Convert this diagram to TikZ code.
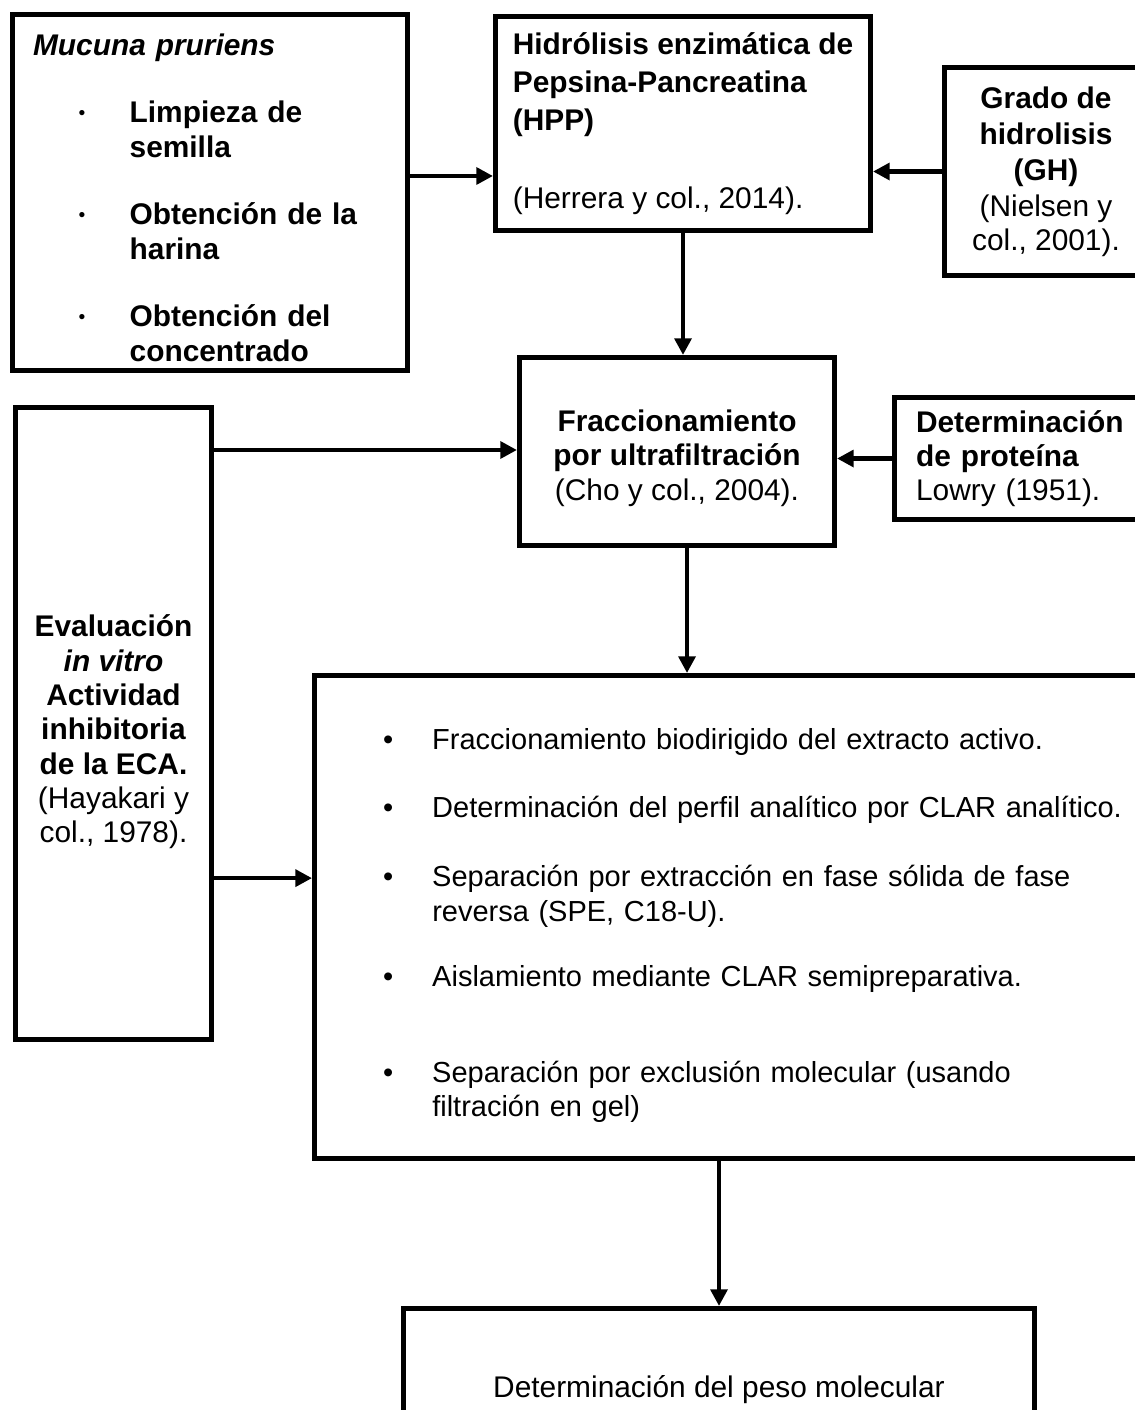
\documentclass[tikz,border=0pt]{standalone}
\usepackage{fontspec}
\setmainfont{Liberation Sans}
\usetikzlibrary{arrows.meta}

\begin{document}
\begin{tikzpicture}[x=0.02cm,y=-0.02cm,
  blk/.style={draw,line width=2.9pt,inner sep=0pt,font=\fontsize{17}{19.5}\selectfont},
  arr/.style={line width=2.6pt,-{Triangle[length=9.5pt,width=9.5pt]}}]
\useasboundingbox (0,0) rectangle (1135,1410);
\clip (0,0) rectangle (1135,1410);

\node[blk,minimum width=7.9cm,minimum height=7.12cm,text width=7.08cm,align=left] (MUC) at (210,192.5) {\rule{0pt}{18pt}\textbf{\textit{Mucuna pruriens}}\\[19pt]
\hspace*{26pt}\makebox[29pt][l]{\raisebox{2pt}{\fontsize{11}{11}\selectfont •}}\textbf{Limpieza de}\\
\hspace*{55pt}\textbf{semilla}\\[19pt]
\hspace*{26pt}\makebox[29pt][l]{\raisebox{2pt}{\fontsize{11}{11}\selectfont •}}\textbf{Obtención de la}\\
\hspace*{55pt}\textbf{harina}\\[19pt]
\hspace*{26pt}\makebox[29pt][l]{\raisebox{2pt}{\fontsize{11}{11}\selectfont •}}\textbf{Obtención del}\\
\hspace*{55pt}\textbf{concentrado}};
\node[blk,minimum width=7.5cm,minimum height=4.28cm,align=left] (HPP) at (683,123.5) {\textbf{Hidrólisis enzimática de}\\[2pt]\textbf{Pepsina-Pancreatina}\\[2pt]\textbf{(HPP)}\\[25pt](Herrera y col., 2014).};
\node[blk,minimum width=4.05cm,minimum height=4.16cm,align=center] (GH) at (1046,171.5) {\textbf{Grado de}\\[1pt]\textbf{hidrolisis}\\[1pt]\textbf{(GH)}\\[1pt](Nielsen y\\col., 2001).};
\node[blk,minimum width=6.3cm,minimum height=3.76cm,align=center] (UF) at (677,451.5) {\rule{0pt}{20pt}\textbf{Fraccionamiento}\\\textbf{por ultrafiltración}\\(Cho y col., 2004).};
\node[blk,minimum width=6.71cm,minimum height=2.44cm,text width=5.85cm,align=left] (PROT) at (1062.25,458.5) {\textbf{Determinación}\\\textbf{de proteína}\\Lowry (1951).};
\node[blk,minimum width=3.92cm,minimum height=12.64cm,align=center] (ECA) at (113.5,723.5) {\rule{0pt}{22pt}\textbf{Evaluación}\\\textbf{\textit{in vitro}}\\\textbf{Actividad}\\\textbf{inhibitoria}\\\textbf{de la ECA.}\\(Hayakari y\\col., 1978).};
\node[blk,font=\fontsize{16.5}{19.5}\selectfont,minimum width=18.31cm,minimum height=9.66cm,text width=15.57cm,align=left] (FRAC) at (772.25,917) {\rule{0pt}{22pt}\makebox[28pt][l]{•}Fraccionamiento biodirigido del extracto activo.\\[19pt]
\makebox[28pt][l]{•}Determinación del perfil analítico por CLAR analítico.\\[20pt]
\makebox[28pt][l]{•}Separación por extracción en fase sólida de fase\\
\hspace*{28pt}reversa (SPE, C18-U).\\[18pt]
\makebox[28pt][l]{•}Aislamiento mediante CLAR semipreparativa.\\[35pt]
\makebox[28pt][l]{•}Separación por exclusión molecular (usando\\
\hspace*{28pt}filtración en gel)};
\node[blk,minimum width=12.62cm,minimum height=3.26cm] (PM) at (719,1390) {Determinación del peso molecular};

\draw[arr] ([yshift=9.4pt]MUC.east) coordinate (m1) -- (m1 -| HPP.west);
\draw[arr] (GH.west) -- (GH.west -| HPP.east);
\draw[arr] (HPP.south) -- (HPP.south |- UF.north);
\draw[arr] (PROT.west) -- (PROT.west -| UF.east);
\draw[arr] ([yshift=-25.6pt]ECA.north east) coordinate (e1) -- (e1 -| UF.west);
\draw[arr] ([xshift=5.7pt]UF.south) coordinate (u1) -- (u1 |- FRAC.north);
\draw[arr] ([yshift=-88pt]ECA.east) coordinate (e2) -- (e2 -| FRAC.west);
\draw[arr] (FRAC.south -| PM.north) -- (PM.north);
\end{tikzpicture}
\end{document}
